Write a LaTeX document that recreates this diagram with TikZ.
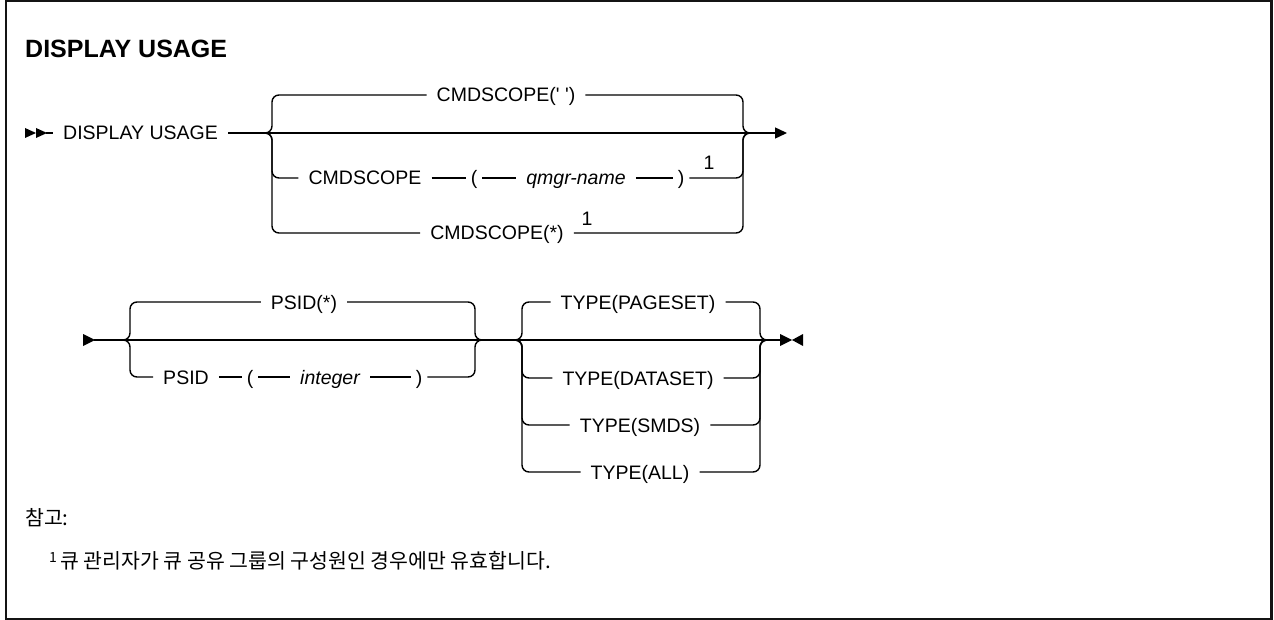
\documentclass[tikz,border=0pt]{standalone}
\usepackage{fontspec}
\setmainfont{Liberation Sans}
\newfontfamily\krfont{Noto Sans CJK KR}
\usepackage{tikz}
\usetikzlibrary{arrows.meta,positioning,calc}
\definecolor{ink}{RGB}{0,0,0}
\definecolor{framegray}{RGB}{20,20,20}
\tikzset{
  rail/.style={draw=ink, line width=1.4pt},
  fork/.style={rail, rounded corners=7pt},
  endarrow/.style={rail, -{Triangle[length=12pt,width=11pt]}},
  kwbox/.style={inner xsep=10pt, inner ysep=0pt, text height=14pt, text depth=0pt,
    font=\fontsize{19.5}{23}\selectfont},
  varbox/.style={kwbox, font=\fontsize{19.5}{23}\selectfont\itshape},
  parenbox/.style={kwbox, inner xsep=5pt},
  notemark/.style={inner sep=0pt, text height=14pt, text depth=0pt,
    font=\fontsize{19.5}{23}\selectfont},
  titlebox/.style={inner sep=0pt, anchor=base west, font=\bfseries\fontsize{25}{30}\selectfont},
  notebox/.style={inner sep=0pt, anchor=base west, font=\krfont\fontsize{20.5}{25}\selectfont}
}

\begin{document}
\begin{tikzpicture}[x=1pt, y=-1pt]
\useasboundingbox (0,0) rectangle (1274,620);
% frame
\draw[framegray, line width=1.5pt] (5,1) -- (1272,1);
\draw[framegray, line width=1.2pt] (5,619) -- (1272,619);
\draw[framegray, line width=2.5pt] (6,0) -- (6,620);
\draw[framegray, line width=2.5pt] (1271.5,0) -- (1271.5,620);

\node[titlebox] (ttl) at (25,58) {DISPLAY USAGE};

% first line
\fill[ink] (25,128) -- (36,133) -- (25,138) -- cycle;
\fill[ink] (36,128) -- (47,133) -- (36,138) -- cycle;
\coordinate (st1) at (46,133);
\node[kwbox, anchor=west] (du) at (53,133) {DISPLAY USAGE};
\coordinate (j1) at (264,133);
\coordinate (j1v) at (272,133);
\coordinate (k1v) at (743,133);
\coordinate (k1) at (751,133);
\coordinate (end1) at (787,133);

\node[kwbox] (cs0) at (506,95) {CMDSCOPE(\textquotesingle\ \textquotesingle)};
\node[kwbox] (cmd) at (365,178) {CMDSCOPE};
\node[parenbox] (lp1) at (474,178) {(};
\node[varbox] (qm) at (576,178) {qmgr-name};
\node[parenbox] (rp1) at (681,178) {)};
\node[notemark] (m1) at (709,163) {1};
\node[kwbox] (csall) at (497,233) {CMDSCOPE(*)};
\node[notemark] (m2) at (587,219) {1};

\draw[rail] (st1) -- (du);
\draw[endarrow] (du) -- (end1);
\draw[fork] (j1) -| (j1v |- cs0) -- (cs0);
\draw[fork] (cs0) -- (k1v |- cs0) |- (k1);
\draw[fork] (j1) -| (j1v |- cmd) -- (cmd);
\draw[rail] (cmd) -- (lp1);
\draw[rail] (lp1) -- (qm);
\draw[rail] (qm) -- (rp1);
\draw[fork] (rp1) -- (k1v |- rp1) |- (k1);
\draw[fork] (j1) -| (j1v |- csall) -- (csall);
\draw[fork] (csall) -- (k1v |- csall) |- (k1);

% second line
\fill[ink] (83,334) -- (95,340) -- (83,346) -- cycle;
\coordinate (st2) at (94,340);
\coordinate (j2) at (122,340);
\coordinate (j2v) at (130,340);
\coordinate (k2v) at (475,340);
\coordinate (k2) at (483,340);
\coordinate (j3) at (514,340);
\coordinate (j3v) at (522,340);
\coordinate (k3v) at (760,340);
\coordinate (k3) at (768,340);
\coordinate (e3) at (781,340);

\node[kwbox] (ps0) at (304,302) {PSID(*)};
\node[kwbox] (ps) at (186,377) {PSID};
\node[parenbox] (lp2) at (250,377) {(};
\node[varbox] (int) at (330,377) {integer};
\node[parenbox] (rp2) at (419,377) {)};

\node[kwbox] (tp) at (638,302) {TYPE(PAGESET)};
\node[kwbox] (td) at (638,378) {TYPE(DATASET)};
\node[kwbox] (ts) at (640,425) {TYPE(SMDS)};
\node[kwbox] (ta) at (640,472) {TYPE(ALL)};

\draw[rail] (st2) -- (e3);
\draw[fork] (j2) -| (j2v |- ps0) -- (ps0);
\draw[fork] (ps0) -- (k2v |- ps0) |- (k2);
\draw[fork] (j2) -| (j2v |- ps) -- (ps);
\draw[rail] (ps) -- (lp2);
\draw[rail] (lp2) -- (int);
\draw[rail] (int) -- (rp2);
\draw[fork] (rp2) -- (k2v |- rp2) |- (k2);

\foreach \t in {tp,td,ts,ta}{
  \draw[fork] (j3) -| (j3v |- \t) -- (\t);
  \draw[fork] (\t) -- (k3v |- \t) |- (k3);
}
\fill[ink] (780,334) -- (792,340) -- (780,346) -- cycle;
\fill[ink] (803,334) -- (792,340) -- (803,346) -- cycle;

% notes
\node[notebox] (nt) at (25,525) {참고:};
\node[notebox] (fn) at (49,568) {\raisebox{6pt}{\fontsize{14}{14}\selectfont 1}\,큐 관리자가 큐 공유 그룹의 구성원인 경우에만 유효합니다.};
\end{tikzpicture}
\end{document}
